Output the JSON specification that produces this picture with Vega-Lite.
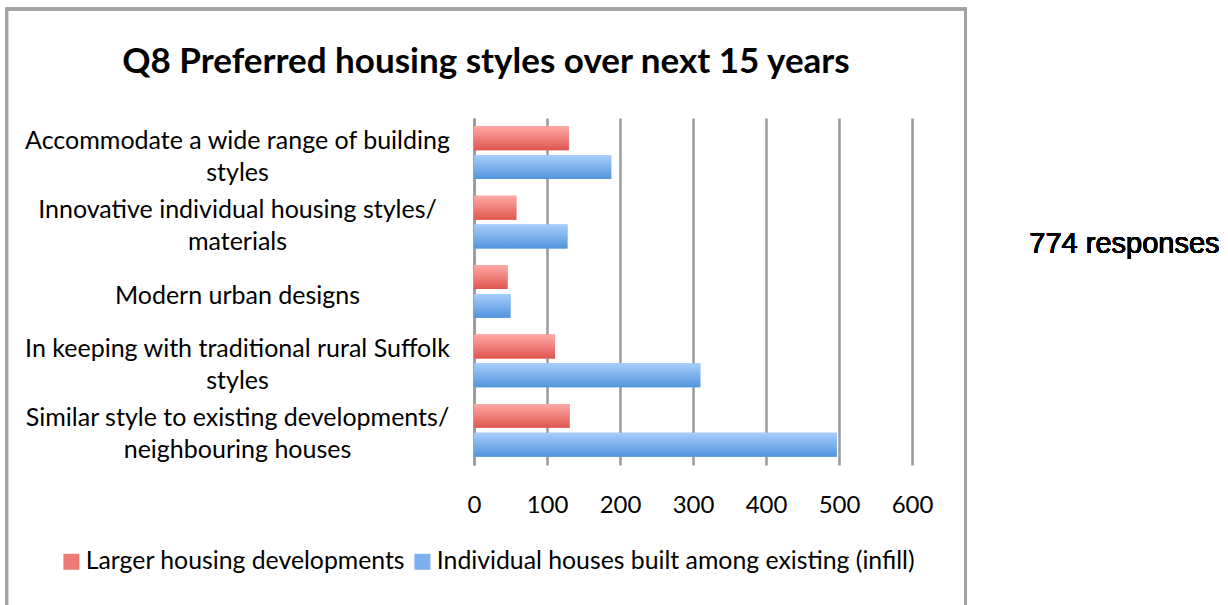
{
  "$schema": "https://vega.github.io/schema/vega-lite/v6.json",
  "autosize": "none",
  "width": 438,
  "height": 347,
  "padding": {"left": 474, "top": 118, "right": 316, "bottom": 140},
  "background": "white",
  "title": {
    "text": "Q8 Preferred housing styles over next 15 years",
    "font": "Lato",
    "fontSize": 35,
    "fontWeight": "bold",
    "color": "black",
    "anchor": "middle",
    "dx": -207,
    "offset": -72
  },
  "config": {
    "view": {"stroke": null},
    "font": "Lato"
  },
  "data": {
    "values": [
      {"category": "Accommodate a wide range of building styles", "series": "Larger housing developments", "count": 130},
      {"category": "Accommodate a wide range of building styles", "series": "Individual houses built among existing (infill)", "count": 188},
      {"category": "Innovative individual housing styles/ materials", "series": "Larger housing developments", "count": 58},
      {"category": "Innovative individual housing styles/ materials", "series": "Individual houses built among existing (infill)", "count": 128},
      {"category": "Modern urban designs", "series": "Larger housing developments", "count": 46},
      {"category": "Modern urban designs", "series": "Individual houses built among existing (infill)", "count": 50},
      {"category": "In keeping with traditional rural Suffolk styles", "series": "Larger housing developments", "count": 111},
      {"category": "In keeping with traditional rural Suffolk styles", "series": "Individual houses built among existing (infill)", "count": 310},
      {"category": "Similar style to existing developments/ neighbouring houses", "series": "Larger housing developments", "count": 131},
      {"category": "Similar style to existing developments/ neighbouring houses", "series": "Individual houses built among existing (infill)", "count": 497}
    ]
  },
  "encoding": {
    "y": {
      "field": "category",
      "type": "nominal",
      "sort": [
        "Accommodate a wide range of building styles",
        "Innovative individual housing styles/ materials",
        "Modern urban designs",
        "In keeping with traditional rural Suffolk styles",
        "Similar style to existing developments/ neighbouring houses"
      ],
      "scale": {"paddingInner": 0.24, "paddingOuter": 0.12},
      "axis": {
        "title": null,
        "domain": true,
        "domainColor": "#9a9a9a",
        "domainWidth": 2.5,
        "ticks": false,
        "tickSize": 0,
        "labelFont": "Lato",
        "labelFontSize": 25,
        "labelColor": "black",
        "labelAlign": "center",
        "labelBaseline": "middle",
        "labelLineHeight": 32,
        "labelPadding": 237,
        "labelLimit": 0,
        "labelOffset": {"condition": {"test": "datum.value == 'Modern urban designs'", "value": 4}, "value": -12},
        "labelExpr": "datum.value == 'Accommodate a wide range of building styles' ? ['Accommodate a wide range of building', 'styles'] : datum.value == 'Innovative individual housing styles/ materials' ? ['Innovative individual housing styles/', 'materials'] : datum.value == 'In keeping with traditional rural Suffolk styles' ? ['In keeping with traditional rural Suffolk', 'styles'] : datum.value == 'Similar style to existing developments/ neighbouring houses' ? ['Similar style to existing developments/', 'neighbouring houses'] : datum.label",
        "encode": {
          "labels": {
            "update": {
              "dx": {"signal": "datum.value == 'Modern urban designs' ? 90 : datum.value == 'Innovative individual housing styles/ materials' ? 15 : datum.value == 'Similar style to existing developments/ neighbouring houses' ? 2 : 0"}
            }
          }
        }
      }
    },
    "yOffset": {
      "field": "series",
      "type": "nominal",
      "sort": ["Larger housing developments", "Individual houses built among existing (infill)"],
      "scale": {"paddingInner": 0.17, "paddingOuter": 0}
    },
    "x": {
      "field": "count",
      "type": "quantitative",
      "scale": {"domain": [0, 600]},
      "axis": {
        "title": null,
        "values": [0, 100, 200, 300, 400, 500, 600],
        "grid": true,
        "gridColor": "#9a9a9a",
        "gridWidth": 2.5,
        "domain": false,
        "ticks": false,
        "tickSize": 0,
        "labelFont": "Lato",
        "labelFontSize": 24,
        "labelColor": "black",
        "labelPadding": 40,
        "labelBaseline": "middle",
        "labelFlush": false,
        "labelOverlap": false
      }
    }
  },
  "layer": [
    {
      "mark": {"type": "bar"},
      "encoding": {
        "color": {
          "field": "series",
          "type": "nominal",
          "scale": {
            "domain": ["Larger housing developments", "Individual houses built among existing (infill)"],
            "range": ["#ee7c76", "#7cb0ee"]
          },
          "legend": {
            "title": null,
            "orient": "none",
            "direction": "horizontal",
            "legendX": -415,
            "legendY": 431,
            "symbolType": "square",
            "symbolSize": 256,
            "symbolStrokeWidth": 0,
            "labelFont": "Lato",
            "labelFontSize": 24.8,
            "labelColor": "black",
            "labelLimit": 0,
            "columnPadding": 4,
            "labelOffset": 2
          }
        }
      }
    },
    {
      "mark": {"type": "bar"},
      "encoding": {
        "fill": {
          "condition": {
            "test": "datum.series == 'Larger housing developments'",
            "value": {"gradient": "linear", "x1": 0, "y1": 0, "x2": 0, "y2": 1, "stops": [{"offset": 0, "color": "#ffa9a6"}, {"offset": 1, "color": "#df564e"}]}
          },
          "value": {"gradient": "linear", "x1": 0, "y1": 0, "x2": 0, "y2": 1, "stops": [{"offset": 0, "color": "#a9cdfc"}, {"offset": 1, "color": "#5195dc"}]}
        }
      }
    },
    {
      "mark": {"type": "rect", "fill": null, "stroke": "#a3a3a3", "strokeWidth": 2.5},
      "encoding": {
        "x": {"datum": -640, "type": "quantitative"},
        "x2": {"datum": 673},
        "y": {"value": -109},
        "y2": {"value": 600},
        "yOffset": null
      }
    },
    {
      "mark": {"type": "text", "font": "Liberation Sans", "fontSize": 29, "color": "black", "align": "center", "baseline": "middle", "dy": 22},
      "encoding": {
        "x": {"datum": 891, "type": "quantitative"},
        "y": {"datum": "Innovative individual housing styles/ materials", "type": "nominal"},
        "yOffset": null,
        "text": {"value": "774 responses"}
      }
    }
  ]
}
